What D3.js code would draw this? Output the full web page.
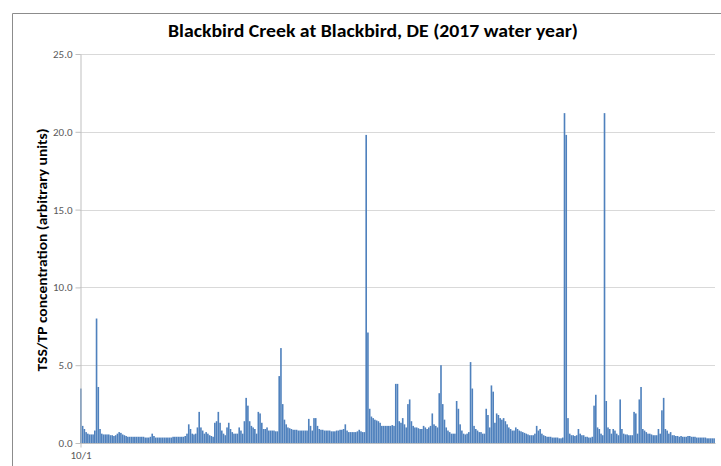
<!DOCTYPE html>
<html>
<head>
<meta charset="utf-8">
<script src="https://cdn.jsdelivr.net/npm/d3@7"></script>
<style>
  html, body { margin: 0; padding: 0; background: #ffffff; }
  svg { display: block; }
</style>
</head>
<body>
<svg id="chart" width="721" height="466"></svg>
<script>
const chartTitle = "Blackbird Creek at Blackbird, DE (2017 water year)";
const yAxisTitle = "TSS/TP concentration (arbitrary units)";
const yTickValues = [0, 5, 10, 15, 20, 25];
const xTickLabels = ["10/1"];
// daily categories of the 2017 water year (10/1/2016 - 9/30/2017)
const days = d3.timeDay.range(new Date(2016, 9, 1), new Date(2017, 9, 1));
const values = [
  3.5, 1.1, 0.9, 0.7, 0.6, 0.55, 0.55, 0.55, 0.8, 8.0,
  3.6, 0.9, 0.6, 0.55, 0.55, 0.55, 0.55, 0.5, 0.5, 0.45,
  0.5, 0.6, 0.7, 0.65, 0.55, 0.5, 0.45, 0.4, 0.4, 0.4,
  0.4, 0.4, 0.4, 0.4, 0.4, 0.4, 0.4, 0.35, 0.35, 0.35,
  0.4, 0.6, 0.45, 0.35, 0.35, 0.35, 0.35, 0.35, 0.35, 0.35,
  0.35, 0.35, 0.35, 0.4, 0.4, 0.4, 0.4, 0.4, 0.4, 0.4,
  0.45, 0.6, 1.2, 0.9, 0.6, 0.55, 0.6, 1.0, 2.0, 1.0,
  0.8, 0.6, 0.7, 0.6, 0.5, 0.45, 0.4, 1.3, 1.4, 2.0,
  1.3, 0.8, 0.6, 0.5, 1.0, 1.3, 0.9, 0.7, 0.6, 0.6,
  0.6, 1.0, 0.8, 0.6, 1.4, 2.9, 2.4, 1.4, 1.1, 1.0,
  0.9, 0.6, 2.0, 1.9, 1.3, 0.9, 0.9, 1.0, 0.8, 0.8,
  0.8, 0.8, 0.75, 0.75, 4.3, 6.1, 2.5, 1.5, 1.2, 1.0,
  0.95, 0.9, 0.85, 0.85, 0.85, 0.8, 0.8, 0.8, 0.8, 0.8,
  0.8, 1.55, 1.1, 0.8, 1.6, 1.6, 1.1, 0.9, 0.85, 0.85,
  0.8, 0.8, 0.8, 0.8, 0.75, 0.75, 0.75, 0.8, 0.8, 0.85,
  0.85, 0.9, 1.2, 0.8, 0.7, 0.7, 0.7, 0.7, 0.7, 0.75,
  0.85, 0.75, 0.7, 0.7, 19.8, 7.1, 2.2, 1.7, 1.6, 1.5,
  1.45, 1.4, 1.3, 1.1, 1.1, 1.1, 1.1, 1.1, 1.1, 1.15,
  1.1, 3.8, 3.8, 1.4, 1.3, 1.6, 1.2, 1.0, 2.5, 2.8,
  1.4, 1.1, 1.0, 1.0, 0.95, 0.9, 0.9, 1.1, 1.0, 0.9,
  1.0, 1.1, 1.9, 1.2, 1.1, 1.0, 3.2, 5.0, 2.5, 1.5,
  1.0, 0.8, 0.7, 0.6, 0.6, 0.6, 2.7, 2.2, 1.2, 0.8,
  0.6, 0.55, 0.6, 0.7, 5.2, 3.5, 1.1, 0.9, 0.8, 0.7,
  0.7, 0.6, 0.6, 2.2, 1.8, 1.0, 3.7, 3.3, 1.3, 1.9,
  1.8, 1.6, 1.5, 1.6, 1.4, 1.2, 1.0, 0.9, 0.8, 0.8,
  1.0, 0.9, 0.8, 0.75, 0.7, 0.65, 0.6, 0.55, 0.5, 0.5,
  0.5, 0.6, 1.1, 0.8, 0.9, 0.6, 0.5, 0.45, 0.4, 0.4,
  0.4, 0.35, 0.35, 0.35, 0.35, 0.3, 0.3, 0.35, 21.2, 19.8,
  1.6, 0.6, 0.5, 0.5, 0.45, 0.5, 0.9, 0.6, 0.5, 0.5,
  0.4, 0.4, 0.35, 0.35, 0.4, 2.4, 3.1, 1.0, 0.9, 0.6,
  0.5, 21.2, 2.7, 1.0, 0.9, 0.6, 0.9, 0.8, 0.6, 0.5,
  2.8, 0.9, 0.6, 0.55, 0.55, 0.5, 0.5, 0.5, 2.0, 1.9,
  0.6, 2.8, 3.6, 0.9, 0.8, 0.7, 0.6, 0.6, 0.55, 0.5,
  0.5, 0.5, 0.9, 0.6, 2.1, 2.9, 0.9, 0.8, 0.6, 0.7,
  0.5, 0.5, 0.45, 0.45, 0.4, 0.45, 0.4, 0.4, 0.4, 0.45,
  0.45, 0.4, 0.4, 0.4, 0.35, 0.35, 0.35, 0.35, 0.35, 0.35,
  0.3, 0.3, 0.3, 0.3, 0.3
];

const data = days.map((d, i) => ({ day: d, value: values[i] }));

const svg = d3.select("#chart");
const plot = { left: 80, right: 715, top: 54, bottom: 443 };
const fontFamily = "Carlito, Calibri, Lato, 'Open Sans', sans-serif";

// outer frame
svg.append("path")
  .attr("d", "M12.5,466 L12.5,13.5 L721,13.5")
  .attr("fill", "none")
  .attr("stroke", "#8c8c8c")
  .attr("stroke-width", 1);

const x = d3.scaleBand()
  .domain(days)
  .range([plot.left, plot.right])
  .paddingInner(0.07)
  .paddingOuter(0.05);

const y = d3.scaleLinear()
  .domain([0, 25])
  .range([plot.bottom, plot.top]);

// gridlines
svg.append("g")
  .selectAll("line")
  .data(yTickValues.filter(v => v > 0))
  .join("line")
  .attr("x1", plot.left)
  .attr("x2", plot.right)
  .attr("y1", d => Math.round(y(d)) + 0.5)
  .attr("y2", d => Math.round(y(d)) + 0.5)
  .attr("stroke", "#d9d9d9")
  .attr("stroke-width", 1);

// bars
svg.append("g")
  .selectAll("rect")
  .data(data)
  .join("rect")
  .attr("x", d => x(d.day))
  .attr("width", x.bandwidth())
  .attr("y", d => y(d.value))
  .attr("height", d => y(0) - y(d.value))
  .attr("fill", "#4f81bd");

// y axis
const yAxis = d3.axisLeft(y)
  .tickValues(yTickValues)
  .tickFormat(d3.format(".1f"))
  .tickSize(5)
  .tickSizeOuter(0)
  .tickPadding(3);

const gy = svg.append("g")
  .attr("transform", `translate(${plot.left + 0.5},0)`)
  .call(yAxis);
gy.select(".domain").attr("stroke", "#bfbfbf");
gy.selectAll(".tick line").attr("stroke", "#bfbfbf");
gy.selectAll(".tick text")
  .attr("fill", "#595959")
  .style("font-family", fontFamily)
  .style("font-size", "11px");

// x axis
const xAxis = d3.axisBottom(d3.scaleTime().domain([days[0], days[days.length - 1]]).range([plot.left, plot.right]))
  .tickValues([days[0]])
  .tickFormat((d, i) => xTickLabels[i])
  .tickSize(4)
  .tickSizeOuter(0)
  .tickPadding(4);

const gx = svg.append("g")
  .attr("transform", `translate(0.5,${plot.bottom + 0.5})`)
  .call(xAxis);
gx.select(".domain").attr("stroke", "#bfbfbf").attr("d", `M${plot.left - 0.5},0H${plot.right}`);
gx.selectAll(".tick line").attr("stroke", "#bfbfbf");
gx.selectAll(".tick text")
  .attr("fill", "#595959")
  .style("font-family", fontFamily)
  .style("font-size", "11px");

// title
svg.append("text")
  .attr("x", 373)
  .attr("y", 37)
  .attr("text-anchor", "middle")
  .attr("textLength", 410)
  .attr("lengthAdjust", "spacingAndGlyphs")
  .style("font-family", fontFamily)
  .style("font-size", "19px")
  .style("font-weight", "bold")
  .attr("fill", "#000000")
  .text(chartTitle);

// y axis title
svg.append("text")
  .attr("transform", "translate(47,250) rotate(-90)")
  .attr("text-anchor", "middle")
  .attr("textLength", 243)
  .attr("lengthAdjust", "spacingAndGlyphs")
  .style("font-family", fontFamily)
  .style("font-size", "14px")
  .style("font-weight", "bold")
  .attr("fill", "#000000")
  .text(yAxisTitle);
</script>
</body>
</html>
